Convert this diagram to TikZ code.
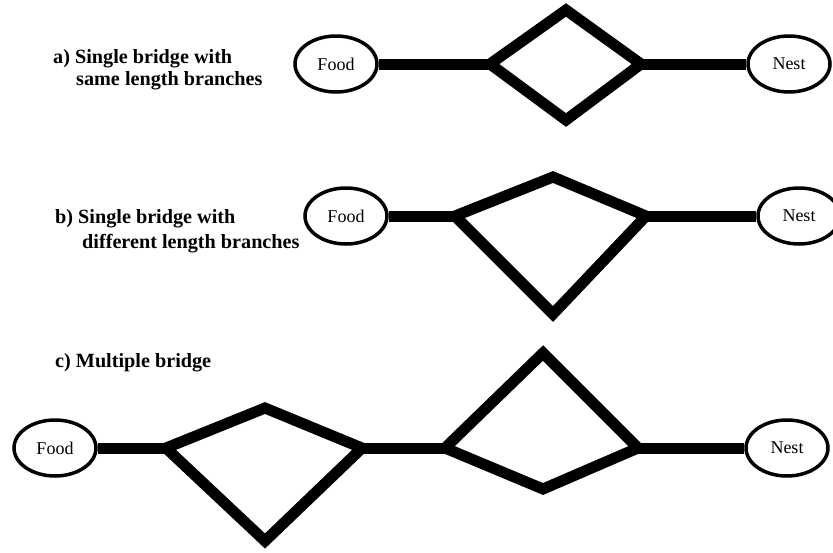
\documentclass[tikz,border=0pt]{standalone}
\usepackage{fontspec}
\setmainfont{Liberation Serif}
\usetikzlibrary{shapes.geometric}
\begin{document}
\begin{tikzpicture}[x=1pt,y=-1pt,
  place/.style={draw,line width=3.5pt,ellipse,minimum width=82pt,minimum height=56pt,inner sep=0pt,font=\fontsize{18}{20}\selectfont},
  branch/.style={line width=11pt,line join=miter,miter limit=10},
  caption/.style={anchor=base west,inner sep=0pt,font=\fontsize{20.2}{24}\selectfont\bfseries}]
\useasboundingbox (0,0) rectangle (833,552);
% labels
\node[caption] (la1) at (53,63) {a) Single bridge with};
\node[caption] (la2) at (76,85) {same length branches};
\node[caption] (lb1) at (55,223) {b) Single bridge with};
\node[caption] (lb2) at (82,248) {different length branches};
\node[caption] (lc1) at (55,367) {c) Multiple bridge};
% a)
\node[place] (fa) at (336,64) {Food};
\node[place] (na) at (789,64) {Nest};
\coordinate (aL) at (490,64);
\coordinate (aT) at (566,10);
\coordinate (aR) at (641,64);
\coordinate (aB) at (566,120);
\draw[branch] (fa.east) -- (aL);
\draw[branch] (aR) -- (na.west);
\draw[branch] (aL) -- (aT) -- (aR) -- (aB) -- cycle;
% b)
\node[place] (fb) at (346,216) {Food};
\node[place] (nb) at (799,216) {Nest};
\coordinate (bL) at (455,216);
\coordinate (bT) at (553,177);
\coordinate (bR) at (646,216);
\coordinate (bB) at (553,314);
\draw[branch] (fb.east) -- (bL);
\draw[branch] (bR) -- (nb.west);
\draw[branch] (bL) -- (bT) -- (bR) -- (bB) -- cycle;
% c)
\node[place] (fc) at (55,448) {Food};
\node[place] (nc) at (787,448) {Nest};
\coordinate (c1L) at (166,448);
\coordinate (c1T) at (265,408);
\coordinate (c1R) at (362,448);
\coordinate (c1B) at (265,541);
\coordinate (c2L) at (445,448);
\coordinate (c2T) at (543,353);
\coordinate (c2R) at (638,448);
\coordinate (c2B) at (543,489);
\draw[branch] (fc.east) -- (c1L);
\draw[branch] (c1R) -- (c2L);
\draw[branch] (c2R) -- (nc.west);
\draw[branch] (c1L) -- (c1T) -- (c1R) -- (c1B) -- cycle;
\draw[branch] (c2L) -- (c2T) -- (c2R) -- (c2B) -- cycle;
\end{tikzpicture}
\end{document}
